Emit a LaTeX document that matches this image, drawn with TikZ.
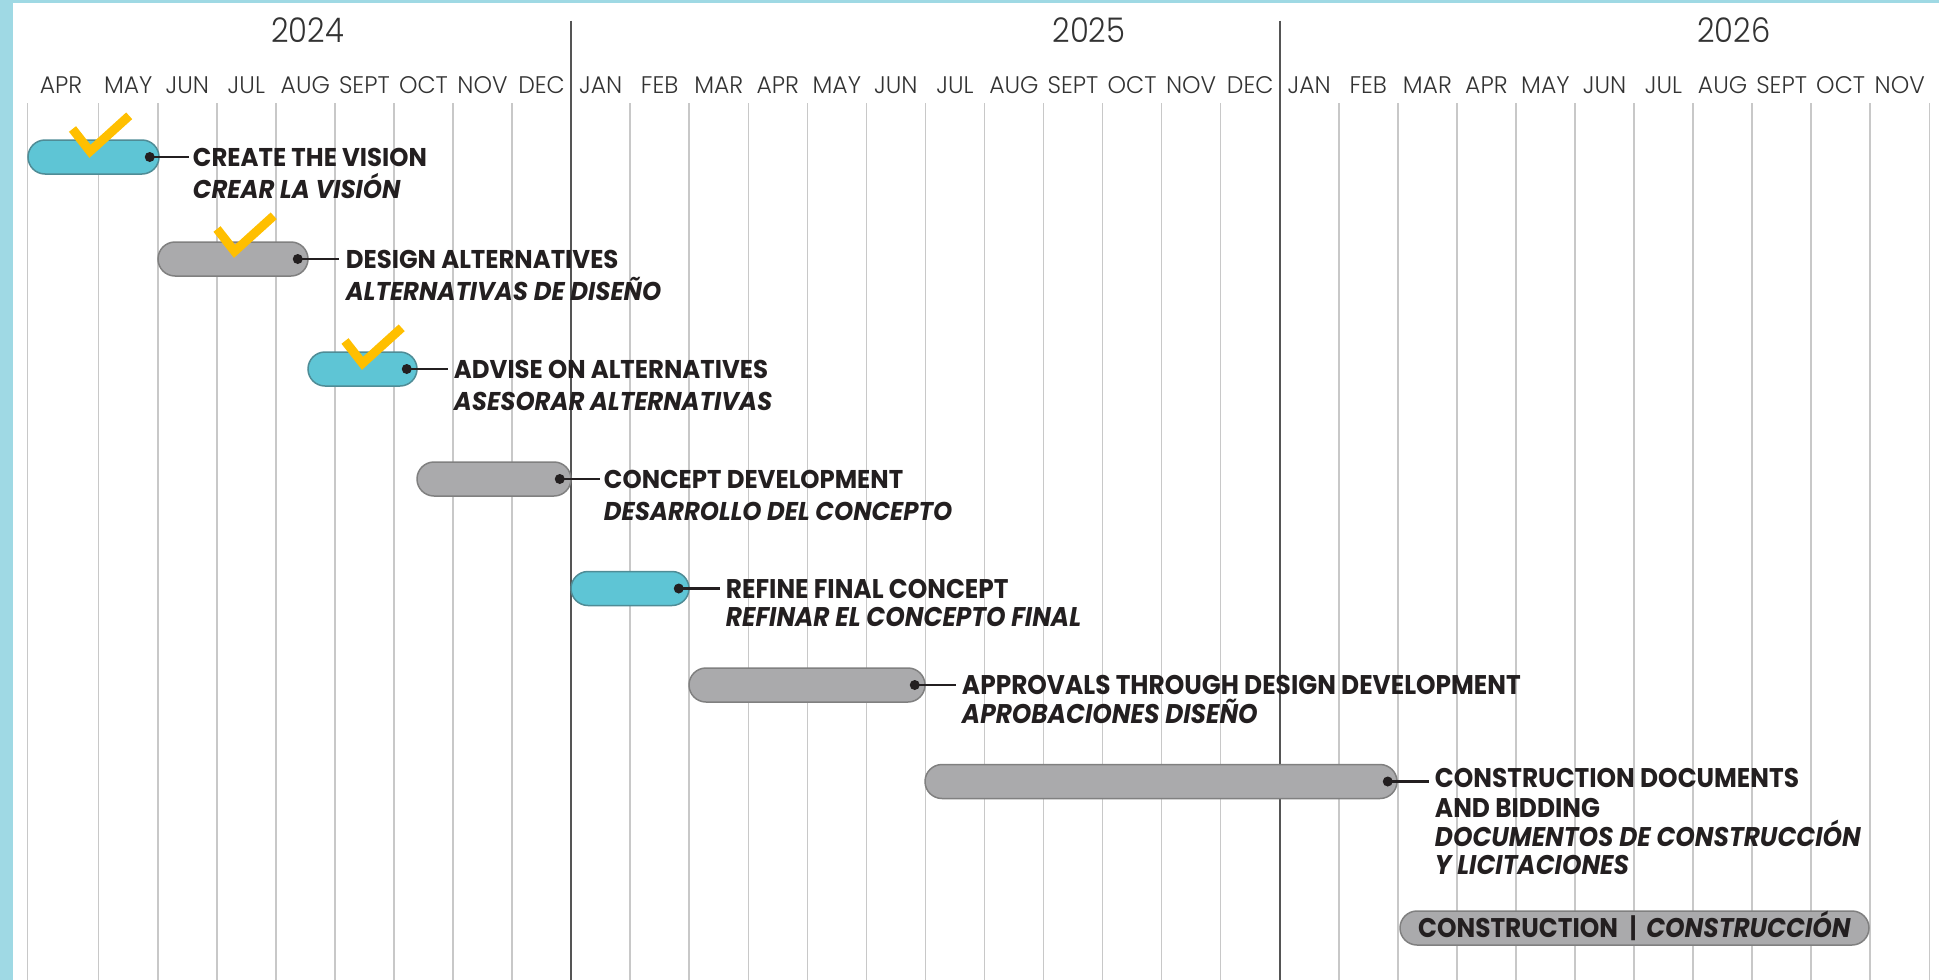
\documentclass[tikz,border=0pt]{standalone}
\usepackage{fontspec}
\newfontfamily\monthfont{Poppins Light}[FakeStretch=0.98]
\newfontfamily\yearfont{Poppins Light}[FakeStretch=0.9]
\newfontfamily\taskfont{Poppins}[FakeStretch=0.95]
\newfontfamily\narrowfont{Poppins}[FakeStretch=0.92]
\definecolor{framecol}{HTML}{9FD9E4}
\definecolor{gridgray}{HTML}{C8C8C8}
\definecolor{yeargray}{HTML}{555555}
\definecolor{monthgray}{HTML}{333333}
\definecolor{ink}{HTML}{231F20}
\definecolor{bluefill}{HTML}{5EC5D5}
\definecolor{blueline}{HTML}{4F8C96}
\definecolor{grayfill}{HTML}{AAAAAC}
\definecolor{grayline}{HTML}{808080}
\definecolor{tickyellow}{HTML}{FFBF00}
\begin{document}
\begin{tikzpicture}[x=1pt,y=-1pt]

      \tikzset{gridline/.style={draw=gridgray, line width=1.5pt},
        yearline/.style={draw=yeargray, line width=2pt},
        month/.style={font=\monthfont\fontsize{24}{24}\selectfont, text=monthgray, anchor=base, inner sep=0pt},
        year/.style={font=\yearfont\fontsize{34}{34}\selectfont, text=monthgray, anchor=base, inner sep=0pt},
        bar/.style={line width=1.5pt, rounded corners=17pt, minimum height=34pt, inner sep=0pt},
        bluebar/.style={bar, draw=blueline, fill=bluefill},
        graybar/.style={bar, draw=grayline, fill=grayfill},
        dot/.style={circle, fill=ink, inner sep=0pt, minimum size=10pt},
        link/.style={draw=ink, line width=2.5pt},
        task/.style={font=\taskfont\bfseries\fontsize{25.7}{32}\selectfont, text=ink, align=left, anchor=base west, inner sep=0pt},
        narrowtask/.style={task, font=\narrowfont\bfseries\fontsize{27}{28.5}\selectfont},
        tick/.style={draw=tickyellow, line width=9pt, line join=miter}}
      \useasboundingbox (0,0) rectangle (1939,980);
%% Frame
      \fill[framecol] (0,0) rectangle (13,980);
      \fill[framecol] (0,0) rectangle (1939,3.3);
%% Grid
      \draw[gridline] (27.5,103) -- (27.5,980);
      \foreach \k in {0,...,31}
        \draw[gridline] ({98.7+59.05*\k},103) -- ({98.7+59.05*\k},980);
      \draw[yearline] (571.1,20.7) -- (571.1,980);
      \draw[yearline] (1279.7,20.7) -- (1279.7,980);
%Months
      \foreach \m [count=\i from 0] in {APR,MAY,JUN,JUL,AUG,SEPT,OCT,NOV,DEC,JAN,FEB,MAR,APR,MAY,JUN,JUL,AUG,SEPT,OCT,NOV,DEC,JAN,FEB,MAR,APR,MAY,JUN,JUL,AUG,SEPT,OCT,NOV}
        \node[month] (m\i) at ({98.7+59.05*(\i-0.5)-8.2*(\i==0)},93.3) {\m};
      \node[year] (y2024) at (307.8,42.7) {2024};
      \node[year] (y2025) at (1089,42.7) {2025};
      \node[year] (y2026) at (1733.8,42.7) {2026};
%% Bars
      \node[bluebar, minimum width=131pt] (bar1) at (93.5,157) {};
      \node[graybar, minimum width=150pt] (bar2) at (233,259) {};
      \node[bluebar, minimum width=109pt] (bar3) at (362.5,369) {};
      \node[graybar, minimum width=154pt] (bar4) at (494,479) {};
      \node[bluebar, minimum width=118pt] (bar5) at (630,588.5) {};
      \node[graybar, minimum width=236pt] (bar6) at (807,685) {};
      \node[graybar, minimum width=472pt] (bar7) at (1161,781.5) {};
      \node[graybar, minimum width=469pt, text height=18pt, text depth=0pt, text=ink,
        font=\narrowfont\bfseries\fontsize{27}{27}\selectfont] (bar8) at (1634.5,928)
        {CONSTRUCTION\hspace{11pt}{\monthfont|}\hspace{9pt}\textit{CONSTRUCCIÓN}};
%Checks
      \draw[tick] ([shift={(-21,-28)}]bar1.center) -- ++(17.5,22.3) -- ++(39.2,-35.5);
      \draw[tick] ([shift={(-16,-30)}]bar2.center) -- ++(17.5,22.3) -- ++(39.2,-35.5);
      \draw[tick] ([shift={(-17.5,-28)}]bar3.center) -- ++(17.5,22.3) -- ++(39.2,-35.5);
%% Dots
      \node[dot] (dot1) at ([xshift=-10pt]bar1.east) {};
      \node[dot] (dot2) at ([xshift=-11pt]bar2.east) {};
      \node[dot] (dot3) at ([xshift=-11pt]bar3.east) {};
      \node[dot] (dot4) at ([xshift=-12pt]bar4.east) {};
      \node[dot] (dot5) at ([xshift=-11pt]bar5.east) {};
      \node[dot] (dot6) at ([xshift=-11pt]bar6.east) {};
      \node[dot] (dot7) at ([xshift=-10pt]bar7.east) {};
      \coordinate (end1) at ([xshift=39pt]dot1.center);
      \coordinate (end2) at ([xshift=41pt]dot2.center);
      \coordinate (end3) at ([xshift=41pt]dot3.center);
      \coordinate (end4) at ([xshift=40pt]dot4.center);
      \coordinate (end5) at ([xshift=41pt]dot5.center);
      \coordinate (end6) at ([xshift=41pt]dot6.center);
      \coordinate (end7) at ([xshift=41pt]dot7.center);
%Links
      \draw[link] (dot1.center) -- (end1);
      \draw[link] (dot2.center) -- (end2);
      \draw[link] (dot3.center) -- (end3);
      \draw[link] (dot4.center) -- (end4);
      \draw[link] (dot5.center) -- (end5);
      \draw[link] (dot6.center) -- (end6);
      \draw[link] (dot7.center) -- (end7);
%% Tasks (anchored on the last line)
      \node[task] (task1) at ([xshift=4pt,yshift=-41pt]end1) {CREATE THE VISION\\\textit{CREAR LA VISIÓN}};
      \node[task] (task2) at ([xshift=7pt,yshift=-41pt]end2) {DESIGN ALTERNATIVES\\\textit{ALTERNATIVAS DE DISEÑO}};
      \node[task] (task3) at ([xshift=6pt,yshift=-41pt]end3) {ADVISE ON ALTERNATIVES\\\textit{ASESORAR ALTERNATIVAS}};
      \node[task] (task4) at ([xshift=4pt,yshift=-41pt]end4) {CONCEPT DEVELOPMENT\\\textit{DESARROLLO DEL CONCEPTO}};
      \node[narrowtask] (task5) at ([xshift=6pt,yshift=-38pt]end5) {REFINE FINAL CONCEPT\\\textit{REFINAR EL CONCEPTO FINAL}};
      \node[narrowtask] (task6) at ([xshift=6pt,yshift=-38pt]end6) {APPROVALS THROUGH DESIGN DEVELOPMENT\\\textit{APROBACIONES DISEÑO}};
      \node[narrowtask] (task7) at ([xshift=6pt,yshift=-93pt]end7) {CONSTRUCTION DOCUMENTS\\[2pt]AND BIDDING\\\textit{DOCUMENTOS DE CONSTRUCCIÓN}\\\textit{Y LICITACIONES}};

	\end{tikzpicture}
\end{document}
